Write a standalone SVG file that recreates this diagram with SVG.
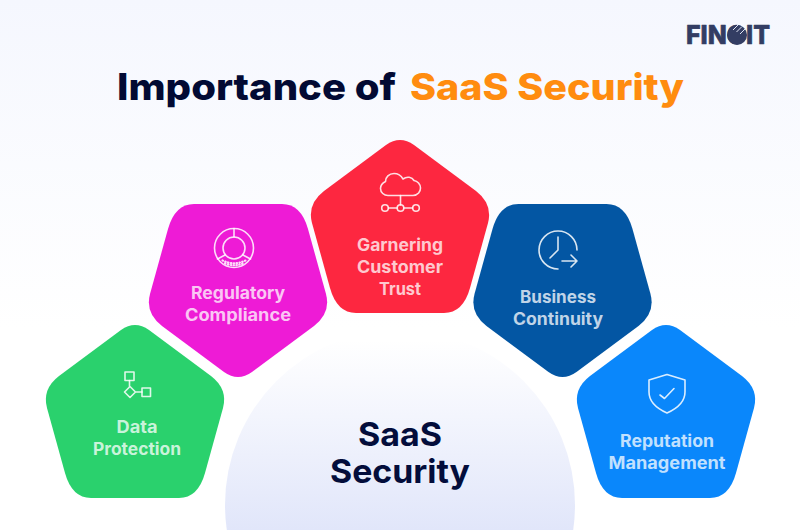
<svg xmlns="http://www.w3.org/2000/svg" xmlns:xlink="http://www.w3.org/1999/xlink" width="800" height="530" viewBox="0 0 800 530">
<style>
text{font-family:Inter,"Liberation Sans",sans-serif;text-anchor:middle}
.title{font-size:37px;font-weight:800}
.center{font-size:33px;font-weight:700;fill:#030d3b}
.label{font-size:17px;font-weight:700;fill:#fff;fill-opacity:.76}
.ic{fill:none;stroke:#fff;stroke-opacity:.85;stroke-width:1.6;stroke-linecap:round;stroke-linejoin:round}
</style>
<defs>
<linearGradient id="bg" x1="0" y1="0" x2="0" y2="1"><stop offset="0" stop-color="#f5f7fe"/><stop offset=".62" stop-color="#ffffff"/></linearGradient>
<linearGradient id="hub" gradientUnits="userSpaceOnUse" x1="0" y1="340" x2="0" y2="530"><stop offset="0" stop-color="#ffffff"/><stop offset="1" stop-color="#e1e6fa"/></linearGradient>
<path id="penta" d="M-14 5Q0-5 14 5L76 51Q93 64 88 83L70 148Q63 173 44 173H-44Q-63 173-70 148L-88 83Q-93 64-76 51Z"/>
</defs>
<rect width="800" height="530" fill="url(#bg)"/>
<g id="logo">
<text x="728" y="44" font-size="26" font-weight="800" fill="#333d63" stroke="#333d63" stroke-width=".6" stroke-linejoin="round" textLength="84" lengthAdjust="spacingAndGlyphs">FINOIT</text>
<circle cx="737" cy="35" r="10" fill="#333d63"/>
<path d="M733 30L738 25M736.500 32L742 26.500M740 34L745 29" stroke="#dfe3f3" stroke-width="1" fill="none"/>
</g>
<text class="title" y="100" x="256.500" fill="#020a33" textLength="279" lengthAdjust="spacingAndGlyphs">Importance of</text>
<text class="title" y="100" x="547" fill="#ff8c0f" textLength="274" lengthAdjust="spacingAndGlyphs">SaaS Security</text>
<g id="hub-node">
<circle cx="400" cy="505" r="175" fill="url(#hub)"/>
<text class="center" x="400" y="446" textLength="84" lengthAdjust="spacingAndGlyphs">SaaS</text>
<text class="center" x="400" y="483" textLength="140" lengthAdjust="spacingAndGlyphs">Security</text>
</g>
<g id="data-protection">
<use xlink:href="#penta" href="#penta" transform="translate(135 325)" fill="#2ad16d"/>
<g class="ic"><rect x="125" y="372" width="9" height="8.500"/><path d="M129.500 380.500V387M130 386.500L135.500 392L130 397.500L124.500 392ZM135.500 392H142"/><rect x="142" y="388" width="8.500" height="8.500"/></g>
<text class="label" x="137" y="433" textLength="41" lengthAdjust="spacingAndGlyphs">Data</text>
<text class="label" x="137" y="455" textLength="88" lengthAdjust="spacingAndGlyphs">Protection</text>
</g>
<g id="regulatory-compliance">
<use xlink:href="#penta" href="#penta" transform="translate(238 377) scale(1 -1)" fill="#ee1bd6"/>
<g class="ic"><circle cx="234" cy="248" r="19.500"/><circle cx="234" cy="248" r="11"/><path d="M234 228.500V237M225 255L217.500 259M243 255L250.500 259"/><path d="M222.500 260.500Q234 266 245.500 260.500M225 263.500Q234 267 243 263.500" stroke-width="2.200" stroke-dasharray=".5 2.400"/></g>
<text class="label" x="238" y="299" textLength="94" lengthAdjust="spacingAndGlyphs">Regulatory</text>
<text class="label" x="238" y="321" textLength="106" lengthAdjust="spacingAndGlyphs">Compliance</text>
</g>
<g id="garnering-customer-trust">
<use xlink:href="#penta" href="#penta" transform="translate(400 140)" fill="#fd2740"/>
<g class="ic"><path d="M388 195.500H413C418 195.500 420.500 191.500 420.500 188C420.500 184 417.500 181 414 180.500C412 177 407 176 403 179C401 175.500 398 173.500 394 173.500C389 173.500 385.500 177 385.500 181.500C382.500 183 380.500 185.500 380.500 188.500C380.500 192.500 384 195.500 388 195.500Z"/><path d="M400.500 195.500V205M388.500 208H397M404 208H412.500"/><circle cx="385" cy="208" r="3.300"/><circle cx="400.500" cy="208" r="3.300"/><circle cx="416" cy="208" r="3.300"/></g>
<text class="label" x="400" y="251" textLength="86" lengthAdjust="spacingAndGlyphs">Garnering</text>
<text class="label" x="400" y="273" textLength="86" lengthAdjust="spacingAndGlyphs">Customer</text>
<text class="label" x="400" y="294.500" textLength="42" lengthAdjust="spacingAndGlyphs">Trust</text>
</g>
<g id="business-continuity">
<use xlink:href="#penta" href="#penta" transform="translate(562.500 377) scale(1 -1)" fill="#0356a3"/>
<g class="ic"><path d="M577 250A19 19 0 1 0 558 269M558 237V250L550 258M562 261H577M571 255L577 261L571 267"/></g>
<text class="label" x="558" y="303" textLength="76" lengthAdjust="spacingAndGlyphs">Business</text>
<text class="label" x="558" y="324.500" textLength="90" lengthAdjust="spacingAndGlyphs">Continuity</text>
</g>
<g id="reputation-management">
<use xlink:href="#penta" href="#penta" transform="translate(666 325)" fill="#0a87fb"/>
<g class="ic"><path d="M667 374.500L685 380V392C685 402 676 409 667 413C658 409 649 402 649 392V380ZM660 395L664.500 398.500L674 388.500"/></g>
<text class="label" x="667" y="447" textLength="94" lengthAdjust="spacingAndGlyphs">Reputation</text>
<text class="label" x="667" y="468.500" textLength="117" lengthAdjust="spacingAndGlyphs">Management</text>
</g>
</svg>
